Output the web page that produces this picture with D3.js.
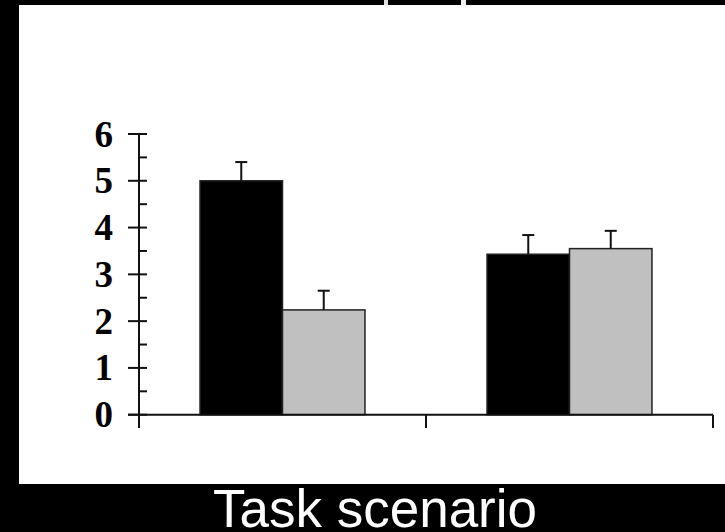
<!DOCTYPE html>
<html>
<head>
<meta charset="utf-8">
<script src="https://cdn.jsdelivr.net/npm/d3@7"></script>
<style>
  body { margin: 0; background: #000; }
  svg { display: block; }
</style>
</head>
<body>
<div id="chart"></div>
<script>
// chart data
var categories = ["Scenario 1", "Scenario 2"];
var series = ["Condition A", "Condition B"];
var seriesColors = ["#000000", "#c0c0c0"];
var meanA = [5.0, 3.43];
var meanB = [2.24, 3.55];
var errA = [0.40, 0.41];
var errB = [0.41, 0.38];
var yTicks = [0, 1, 2, 3, 4, 5, 6];
var yMinorTicks = [0.5, 1.5, 2.5, 3.5, 4.5, 5.5];
var xTitle = "Task scenario";

function init() {
    var w = 725;
    var h = 532;

    var svg = d3.select("#chart")
        .append("svg")
        .attr("width", w)
        .attr("height", h);

    // black backdrop + white panel
    svg.append("rect").attr("width", w).attr("height", h).attr("fill", "#000");
    svg.append("rect")
        .attr("x", 19).attr("y", 5)
        .attr("width", w - 19).attr("height", 479)
        .attr("fill", "#fff");
    // little light gaps in the top band
    svg.append("rect").attr("x", 384).attr("y", 0).attr("width", 4).attr("height", 5).attr("fill", "#ddd");
    svg.append("rect").attr("x", 461).attr("y", 0).attr("width", 5).attr("height", 5).attr("fill", "#eee");

    var data = categories.map(function (c, i) {
        return {
            cat: c,
            vals: [
                { s: series[0], v: meanA[i], e: errA[i], color: seriesColors[0] },
                { s: series[1], v: meanB[i], e: errB[i], color: seriesColors[1] }
            ]
        };
    });

    var x0 = d3.scaleBand().domain(categories).range([139, 713]).padding(0);
    var x1 = d3.scaleBand().domain(series).range([0, x0.bandwidth()])
        .paddingInner(0).paddingOuter(0.74);
    var y = d3.scaleLinear().domain([0, 6]).range([414.7, 134]);

    // bars
    var groups = svg.selectAll(".grp")
        .data(data)
        .enter()
        .append("g")
        .attr("class", "grp")
        .attr("transform", function (d) { return "translate(" + x0(d.cat) + ",0)"; });

    groups.selectAll("rect")
        .data(function (d) { return d.vals; })
        .enter()
        .append("rect")
        .attr("x", function (d) { return x1(d.s); })
        .attr("y", function (d) { return y(d.v); })
        .attr("width", x1.bandwidth())
        .attr("height", function (d) { return y(0) - y(d.v); })
        .attr("fill", function (d) { return d.color; })
        .attr("stroke", "#222")
        .attr("stroke-width", 1.5);

    // error bars
    groups.selectAll(".err")
        .data(function (d) { return d.vals; })
        .enter()
        .append("line")
        .attr("class", "err")
        .attr("x1", function (d) { return x1(d.s) + x1.bandwidth() / 2; })
        .attr("x2", function (d) { return x1(d.s) + x1.bandwidth() / 2; })
        .attr("y1", function (d) { return y(d.v); })
        .attr("y2", function (d) { return y(d.v + d.e); })
        .attr("stroke", "#111")
        .attr("stroke-width", 2);

    groups.selectAll(".cap")
        .data(function (d) { return d.vals; })
        .enter()
        .append("line")
        .attr("class", "cap")
        .attr("x1", function (d) { return x1(d.s) + x1.bandwidth() / 2 - 6; })
        .attr("x2", function (d) { return x1(d.s) + x1.bandwidth() / 2 + 6; })
        .attr("y1", function (d) { return y(d.v + d.e); })
        .attr("y2", function (d) { return y(d.v + d.e); })
        .attr("stroke", "#111")
        .attr("stroke-width", 2);

    var axisColor = "#111";

    // y axis line
    svg.append("line")
        .attr("x1", 139).attr("x2", 139)
        .attr("y1", y(6)).attr("y2", 428)
        .attr("stroke", axisColor).attr("stroke-width", 2);

    // major ticks crossing the axis
    svg.selectAll(".ymaj")
        .data(yTicks)
        .enter()
        .append("line")
        .attr("class", "ymaj")
        .attr("x1", 128).attr("x2", 147)
        .attr("y1", function (d) { return y(d); })
        .attr("y2", function (d) { return y(d); })
        .attr("stroke", axisColor).attr("stroke-width", 2);

    // minor ticks on the inside
    svg.selectAll(".ymin")
        .data(yMinorTicks)
        .enter()
        .append("line")
        .attr("class", "ymin")
        .attr("x1", 139).attr("x2", 147)
        .attr("y1", function (d) { return y(d); })
        .attr("y2", function (d) { return y(d); })
        .attr("stroke", axisColor).attr("stroke-width", 2);

    svg.selectAll(".ylab")
        .data(yTicks)
        .enter()
        .append("text")
        .attr("class", "ylab")
        .attr("x", 113)
        .attr("y", function (d) { return y(d); })
        .attr("dy", "0.34em")
        .attr("text-anchor", "end")
        .style("font-family", "'Liberation Serif', 'Times New Roman', serif")
        .style("font-weight", "bold")
        .style("font-size", "37px")
        .attr("fill", "#000")
        .text(function (d) { return d; });

    // x axis
    svg.append("line")
        .attr("x1", 128).attr("x2", 713)
        .attr("y1", y(0)).attr("y2", y(0))
        .attr("stroke", axisColor).attr("stroke-width", 2);

    var xEdges = categories.map(function (c) { return x0(c); })
        .concat([x0(categories[categories.length - 1]) + x0.bandwidth()]);

    svg.selectAll(".xtick")
        .data(xEdges)
        .enter()
        .append("line")
        .attr("class", "xtick")
        .attr("x1", function (d) { return d; })
        .attr("x2", function (d) { return d; })
        .attr("y1", y(0)).attr("y2", 428)
        .attr("stroke", axisColor).attr("stroke-width", 2);

    // title under the panel
    svg.append("text")
        .attr("x", 375)
        .attr("y", 527)
        .attr("text-anchor", "middle")
        .style("font-family", "'Liberation Sans', Arial, sans-serif")
        .style("font-size", "53px")
        .attr("fill", "#fff")
        .text(xTitle);
}

window.onload = init;
</script>
</body>
</html>
